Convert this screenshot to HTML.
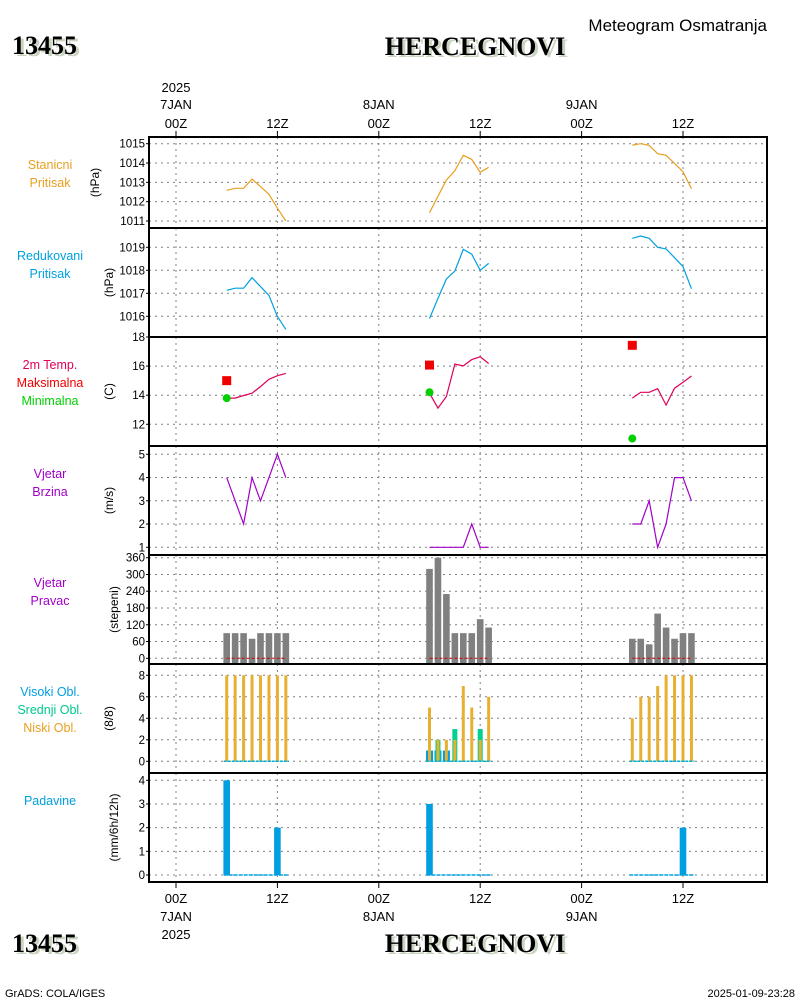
<!DOCTYPE html>
<html><head><meta charset="utf-8"><style>
body{margin:0;background:#fff;}
svg{display:block;font-family:"Liberation Sans",sans-serif;}
</style></head><body>
<svg id="chart" width="800" height="1000" viewBox="0 0 800 1000" xmlns="http://www.w3.org/2000/svg">
<rect width="800" height="1000" fill="#fff"/>
<g>
<text x="15" y="56" font-family="Liberation Serif,serif" font-weight="bold" font-size="26" fill="#c8d4c0">13455</text>
<text x="12" y="54" font-family="Liberation Serif,serif" font-weight="bold" font-size="26" fill="#000">13455</text>
<text x="478" y="57" text-anchor="middle" font-family="Liberation Serif,serif" font-weight="bold" font-size="26" fill="#c8d4c0">HERCEGNOVI</text>
<text x="475" y="55" text-anchor="middle" font-family="Liberation Serif,serif" font-weight="bold" font-size="26" fill="#000">HERCEGNOVI</text>
<text x="767" y="31" text-anchor="end" font-size="17" fill="#000">Meteogram Osmatranja</text>
<text x="15" y="954" font-family="Liberation Serif,serif" font-weight="bold" font-size="26" fill="#c8d4c0">13455</text>
<text x="12" y="952" font-family="Liberation Serif,serif" font-weight="bold" font-size="26" fill="#000">13455</text>
<text x="478" y="954" text-anchor="middle" font-family="Liberation Serif,serif" font-weight="bold" font-size="26" fill="#c8d4c0">HERCEGNOVI</text>
<text x="475" y="952" text-anchor="middle" font-family="Liberation Serif,serif" font-weight="bold" font-size="26" fill="#000">HERCEGNOVI</text>
<text x="5" y="997" font-size="11" fill="#000">GrADS: COLA/IGES</text>
<text x="795" y="997" text-anchor="end" font-size="11" fill="#000">2025-01-09-23:28</text>
</g>
<g id="plots"></g>
</svg>
<script>
const hours = [6,7,8,9,10,11,12,13, 30,31,32,33,34,35,36,37, 54,55,56,57,58,59,60,61];
const stationPressure = [1012.59,1012.69,1012.69,1013.17,1012.78,1012.38,1011.66,1011.0,
 1011.43,1012.28,1013.12,1013.6,1014.4,1014.19,1013.52,1013.78,
 1014.93,1015.0,1014.91,1014.48,1014.4,1013.98,1013.55,1012.67];
const reducedPressure = [1017.13,1017.22,1017.22,1017.68,1017.29,1016.91,1015.99,1015.43,
 1015.9,1016.78,1017.62,1017.97,1018.91,1018.7,1018.0,1018.3,
 1019.39,1019.49,1019.39,1019.0,1018.93,1018.55,1018.16,1017.2];
const temperature = [13.8,13.8,13.98,14.14,14.59,15.09,15.34,15.5,
 14.14,13.11,13.91,16.14,16.02,16.45,16.64,16.18,
 13.8,14.2,14.2,14.45,13.32,14.48,14.89,15.32];
const maxTempHours = [6,30,54];
const maxTemp = [15.0,16.07,17.43];
const minTemp = [13.8,14.2,11.02];
const windSpeed = [4,3,2,4,3,4,5,4, 1,1,1,1,1,2,1,1, 2,2,3,1,2,4,4,3];
const windDir = [90,90,90,70,90,90,90,90, 320,360,230,90,90,90,140,110, 70,70,50,160,110,70,90,90];
const highCloud = [0,0,0,0,0,0,0,0, 1,1,1,0,0,0,0,0, 0,0,0,0,0,0,0,0];
const midCloud = [0,0,0,0,0,0,0,0, 0,2,0,3,0,0,3,0, 0,0,0,0,0,0,0,0];
const lowCloud = [8,8,8,8,8,8,8,8, 5,2,2,2,7,5,2,6, 4,6,6,7,8,8,8,8];
const precip = [4,0,0,0,0,0,2,0, 3,0,0,0,0,0,0,0, 0,0,0,0,0,0,2,0];
const xTickHours = [0,12,24,36,48,60];
const xTickLabels = ["00Z","12Z","00Z","12Z","00Z","12Z"];

const NS="http://www.w3.org/2000/svg";
const root=document.getElementById('plots');
const L=149,R=767;
function xs(h){return 176+h*(683-176)/60;}
function mk(tag,attrs,parent){const e=document.createElementNS(NS,tag);for(const k in attrs)e.setAttribute(k,attrs[k]);(parent||root).appendChild(e);return e;}
function lin(v0,y0,v1,y1){return v=>y0+(v-v0)*(y1-y0)/(v1-v0);}

const panels=[
 {name:'station-pressure',top:137,bot:228,ys:lin(1015,143.7,1011,221),ticks:[1015,1014,1013,1012,1011],unit:'(hPa)',
  labels:[['Stanicni','#e8a020'],['Pritisak','#e8a020']]},
 {name:'reduced-pressure',top:228,bot:337,ys:lin(1019,247.3,1016,316.3),ticks:[1019,1018,1017,1016],unit:'(hPa)',
  labels:[['Redukovani','#00a0e0'],['Pritisak','#00a0e0']]},
 {name:'temperature',top:337,bot:446,ys:lin(18,337,12,424.3),ticks:[18,16,14,12],unit:'(C)',
  labels:[['2m Temp.','#e0005a'],['Maksimalna','#f00000'],['Minimalna','#00d000']]},
 {name:'wind-speed',top:446,bot:555,ys:lin(5,454.3,1,547.3),ticks:[5,4,3,2,1],unit:'(m/s)',
  labels:[['Vjetar','#a000c8'],['Brzina','#a000c8']]},
 {name:'wind-direction',top:555,bot:664,ys:lin(360,557.7,0,658.3),ticks:[360,300,240,180,120,60,0],unit:'(stepeni)',
  labels:[['Vjetar','#a000c8'],['Pravac','#a000c8']]},
 {name:'cloud-cover',top:664,bot:773,ys:lin(8,675.3,0,761.3),ticks:[8,6,4,2,0],unit:'(8/8)',
  labels:[['Visoki Obl.','#00a0e0'],['Srednji Obl.','#00c890'],['Niski Obl.','#e8a020']]},
 {name:'precipitation',top:773,bot:882,ys:lin(4,780.3,0,875),ticks:[4,3,2,1,0],unit:'(mm/6h/12h)',
  labels:[['Padavine','#00a0e0']]}
];

panels.forEach((p,pi)=>{
 const g=mk('g',{});
 
 
 xTickHours.forEach(h=>{const l=mk('line',{x1:xs(h),x2:xs(h),y1:p.top,y2:p.bot,stroke:'#808080','stroke-dasharray':'2,4','stroke-width':1},g);
  });
 p.ticks.forEach(t=>{const y=p.ys(t);
  if(y>p.top+1&&y<p.bot-1){const l=mk('line',{x1:L,x2:R,y1:y,y2:y,stroke:'#808080','stroke-dasharray':'2,4','stroke-width':1},g);
   }
  mk('line',{x1:L-3,x2:L,y1:y,y2:y,stroke:'#000'},g);
  const tx=mk('text',{x:L-4,y:y+4,'text-anchor':'end','font-size':11.5,fill:'#000'},g);tx.textContent=t;
  
 });
 const cy=(p.top+p.bot)/2;
 const ut=mk('text',{x:0,y:0,'text-anchor':'middle','font-size':12,fill:'#000',transform:`translate(${pi==0?99:(pi==4||pi==6?118:113)},${cy}) rotate(-90)`},g);
 ut.textContent=p.unit;
 p.labels.forEach((lb,i)=>{const t=mk('text',{x:50,y:p.top+32+i*18,'text-anchor':'middle','font-size':12.5,fill:lb[1]},g);
  t.textContent=lb[0];});
 p.g=g;
});

function series(vals,p,color,name){
 for(let s=0;s<3;s++){
  const pts=[];for(let i=s*8;i<s*8+8;i++)pts.push(xs(hours[i])+','+p.ys(vals[i]).toFixed(1));
  const pl=mk('polyline',{points:pts.join(' '),fill:'none',stroke:color,'stroke-width':1.2},p.g);
  
 }
}
series(stationPressure,panels[0],'#e8a020','station-pressure-line');
series(reducedPressure,panels[1],'#00a0e0','reduced-pressure-line');
series(temperature,panels[2],'#e0005a','temperature-line');
series(windSpeed,panels[3],'#a000c8','wind-speed-line');
maxTempHours.forEach((h,i)=>{
 const r=mk('rect',{x:xs(h)-4.5,y:panels[2].ys(maxTemp[i])-4.5,width:9,height:9,fill:'#f00000'},panels[2].g);
 
 const c=mk('circle',{cx:xs(h),cy:panels[2].ys(minTemp[i]),r:4,fill:'#00d000'},panels[2].g);
 
});
hours.forEach((h,i)=>{const p=panels[4];const y=p.ys(windDir[i]);
 const b=mk('rect',{x:xs(h)-3.3,y:y,width:6.6,height:p.bot-y,fill:'#808080'},p.g);
 });
for(let s=0;s<3;s++){const p=panels[4];const l=mk('line',{x1:xs(hours[s*8]),x2:xs(hours[s*8+7]),y1:p.ys(0),y2:p.ys(0),stroke:'#d00000','stroke-dasharray':'3,2'},p.g);
 }
hours.forEach((h,i)=>{const p=panels[5];const z=p.ys(0);
 [[highCloud,'#00a0e0',7,'high-cloud-bar'],[midCloud,'#00d090',5,'mid-cloud-bar'],[lowCloud,'#e8b030',3,'low-cloud-bar']].forEach(a=>{
  const v=a[0][i];if(v<=0)return;const y=p.ys(v);
  const b=mk('rect',{x:xs(h)-a[2]/2,y:y,width:a[2],height:z-y,fill:a[1]},p.g);
  });
});
for(let s=0;s<3;s++){const p=panels[5];const l=mk('line',{x1:xs(hours[s*8])-3,x2:xs(hours[s*8+7])+3,y1:p.ys(0),y2:p.ys(0),stroke:'#00b0d0','stroke-dasharray':'3,1','stroke-width':1.5},p.g);
 }
hours.forEach((h,i)=>{const p=panels[6];if(precip[i]<=0)return;const y=p.ys(precip[i]);
 const b=mk('rect',{x:xs(h)-3.3,y:y,width:6.6,height:p.ys(0)-y,fill:'#00a0e0'},p.g);
 });
for(let s=0;s<3;s++){const p=panels[6];const l=mk('line',{x1:xs(hours[s*8])-3,x2:xs(hours[s*8+7])+3,y1:p.ys(0),y2:p.ys(0),stroke:'#00a0e0','stroke-dasharray':'4,1','stroke-width':1.5},p.g);
 }
panels.forEach(p=>{const r=mk('rect',{x:L,y:p.top,width:R-L,height:p.bot-p.top,fill:'none',stroke:'#000','stroke-width':2});
 });
xTickHours.forEach((h,i)=>{const x=xs(h);
 mk('line',{x1:x,x2:x,y1:131,y2:137,stroke:'#000'});mk('line',{x1:x,x2:x,y1:882,y2:888,stroke:'#000'});
 const t1=mk('text',{x:x,y:128,'text-anchor':'middle','font-size':13,fill:'#000'});t1.textContent=xTickLabels[i];
 
 const t2=mk('text',{x:x,y:903,'text-anchor':'middle','font-size':13,fill:'#000'});t2.textContent=xTickLabels[i];
 
});
const dayLabels=['7JAN','8JAN','9JAN'];
dayLabels.forEach((d,i)=>{const x=xs(i*24);
 const t=mk('text',{x:x,y:109,'text-anchor':'middle','font-size':13,fill:'#000'});t.textContent=d;
 
 const b=mk('text',{x:x,y:921,'text-anchor':'middle','font-size':13,fill:'#000'});b.textContent=d;
 
});
const y1=mk('text',{x:xs(0),y:92,'text-anchor':'middle','font-size':13,fill:'#000'});y1.textContent='2025';

const y2=mk('text',{x:xs(0),y:939,'text-anchor':'middle','font-size':13,fill:'#000'});y2.textContent='2025';

</script>
</body></html>
